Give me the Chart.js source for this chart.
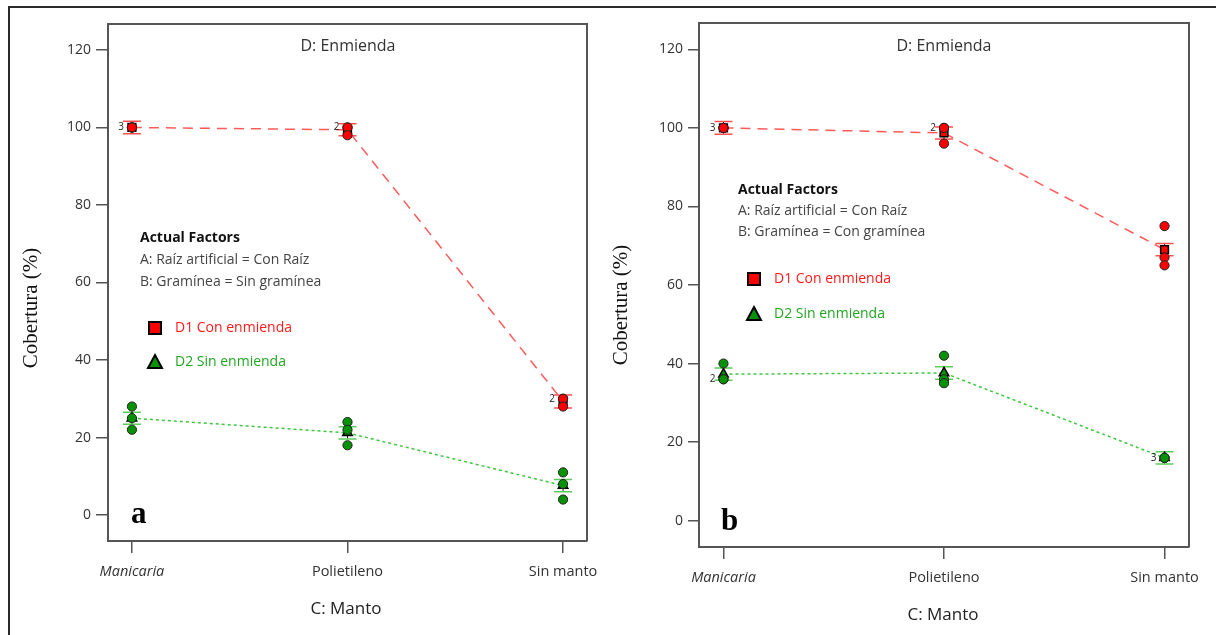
<!DOCTYPE html>
<html>
<head>
<meta charset="utf-8">
<title>Cobertura por manto y enmienda</title>
<script src="https://cdn.jsdelivr.net/npm/chart.js@4.4.0/dist/chart.umd.min.js"></script>
<style>
    html, body { margin: 0; padding: 0; background: #fff; }
    #frame { position: absolute; left: 8px; top: 6px; width: 1240px; height: 700px;
             border-left: 2px solid #2a2a2a; border-top: 2px solid #2a2a2a; }
    canvas { position: absolute; top: 0; }
    #chart-a { left: 0; }
    #chart-b { left: 600px; }
</style>
</head>
<body>
<div id="frame"></div>
<canvas id="chart-a" width="600" height="635"></canvas>
<canvas id="chart-b" width="616" height="635"></canvas>
<script>
var categories = ['Manicaria', 'Polietileno', 'Sin manto'];
var yTicks = [0, 20, 40, 60, 80, 100, 120];

// a: Gramínea = Sin gramínea
var aD1Obs = [[100, 100, 100], [100, 100, 98], [30, 30, 28]];
var aD1Mean = [100, 99.4, 29.3];
var aD1Ci = [1.6, 1.55, 1.7];
var aD1Rep = [3, 2, 2];
var aD1RepAt = [100, 100, 30];

var aD2Obs = [[28, 25, 22], [24, 22, 18], [11, 8, 4]];
var aD2Mean = [25, 21.2, 7.6];
var aD2Ci = [1.55, 1.6, 1.6];
var aD2Rep = [0, 0, 0];
var aD2RepAt = [null, null, null];

// b: Gramínea = Con gramínea
var bD1Obs = [[100, 100, 100], [100, 100, 96], [75, 67, 65]];
var bD1Mean = [100, 98.7, 69];
var bD1Ci = [1.6, 1.5, 1.55];
var bD1Rep = [3, 2, 0];
var bD1RepAt = [100, 100, null];

var bD2Obs = [[40, 36, 36], [42, 36, 35], [16, 16, 16]];
var bD2Mean = [37.3, 37.6, 16];
var bD2Ci = [1.55, 1.6, 1.55];
var bD2Rep = [2, 0, 3];
var bD2RepAt = [36, null, 16];

var RED = '#ff0000', GREEN = '#079107';
var FONT = 'Open Sans';

Chart.defaults.font.family = FONT;

function points(obs) {
    var out = [];
    obs.forEach(function(vals, i) {
        vals.forEach(function(v) { out.push({x: i, y: v}); });
    });
    return out;
}

function meanLine(mean) {
    return mean.map(function(v, i) { return {x: i, y: v}; });
}

function decor(p) {
    return {
        id: 'decor',
        beforeDatasetsDraw: function(chart) {
            var ctx = chart.ctx, xs = chart.scales.x, ys = chart.scales.y;
            p.series.forEach(function(s) {
                s.mean.forEach(function(m, i) {
                    var px = xs.getPixelForValue(i);
                    var top = ys.getPixelForValue(m + s.ci[i]);
                    var bot = ys.getPixelForValue(m - s.ci[i]);
                    ctx.save();
                    ctx.strokeStyle = '#222';
                    ctx.lineWidth = 1;
                    ctx.beginPath();
                    ctx.moveTo(px, top); ctx.lineTo(px, bot);
                    ctx.stroke();
                    ctx.strokeStyle = s.cap;
                    ctx.lineWidth = 1.5;
                    ctx.beginPath();
                    ctx.moveTo(px - 9, top); ctx.lineTo(px + 9, top);
                    ctx.moveTo(px - 9, bot); ctx.lineTo(px + 9, bot);
                    ctx.stroke();
                    ctx.restore();
                });
            });
        },
        afterDatasetsDraw: function(chart) {
            var ctx = chart.ctx, xs = chart.scales.x, ys = chart.scales.y;
            ctx.save();
            ctx.fillStyle = '#222';
            ctx.font = '10px ' + FONT;
            ctx.textAlign = 'right';
            ctx.textBaseline = 'middle';
            p.series.forEach(function(s) {
                s.rep.forEach(function(n, i) {
                    if (!n) return;
                    ctx.fillText(String(n), xs.getPixelForValue(i) - 8, ys.getPixelForValue(s.repAt[i]));
                });
            });
            ctx.restore();
        },
        afterDraw: function(chart) {
            var ctx = chart.ctx, a = chart.chartArea, o = p.offset;
            ctx.save();
            // rest of the plot frame
            ctx.strokeStyle = '#555';
            ctx.lineWidth = 2;
            ctx.beginPath();
            ctx.moveTo(a.left, a.top); ctx.lineTo(a.right, a.top); ctx.lineTo(a.right, a.bottom);
            ctx.stroke();

            ctx.textBaseline = 'middle';
            ctx.fillStyle = '#333';
            ctx.font = '16px ' + FONT;
            ctx.textAlign = 'center';
            ctx.fillText('D: Enmienda', p.title[0] - o, p.title[1]);
            ctx.font = '17px ' + FONT;
            ctx.fillStyle = '#222';
            ctx.fillText('C: Manto', p.xTitle[0] - o, p.xTitle[1]);

            ctx.save();
            ctx.translate(p.yTitle[0] - o, p.yTitle[1]);
            ctx.rotate(-Math.PI / 2);
            ctx.font = '21px "Liberation Serif"';
            ctx.fillStyle = '#111';
            ctx.fillText('Cobertura (%)', 0, 0);
            ctx.restore();

            ctx.textAlign = 'left';
            ctx.font = 'bold 14px ' + FONT;
            ctx.fillStyle = '#111';
            ctx.fillText('Actual Factors', p.factors[0] - o, p.factors[1]);
            ctx.font = '14px ' + FONT;
            ctx.fillStyle = '#444';
            ctx.fillText('A: Raíz artificial = Con Raíz', p.factors[0] - o, p.factors[1] + p.gap);
            ctx.fillText('B: Gramínea = ' + p.grass, p.factors[0] - o, p.factors[1] + 2 * p.gap);

            // legend keys
            var lx = p.legend[0] - o, ly1 = p.legend[1], ly2 = p.legend[2];
            ctx.fillStyle = RED;
            ctx.strokeStyle = '#000';
            ctx.lineWidth = 2;
            ctx.fillRect(lx - 6, ly1 - 6, 12, 12);
            ctx.strokeRect(lx - 6, ly1 - 6, 12, 12);
            ctx.fillStyle = GREEN;
            ctx.beginPath();
            ctx.moveTo(lx, ly2 - 7); ctx.lineTo(lx + 7, ly2 + 6); ctx.lineTo(lx - 7, ly2 + 6);
            ctx.closePath();
            ctx.fill(); ctx.stroke();
            ctx.font = '14px ' + FONT;
            ctx.fillStyle = '#ff1a1a';
            ctx.fillText('D1 Con enmienda', lx + 20, ly1);
            ctx.fillStyle = '#22a622';
            ctx.fillText('D2 Sin enmienda', lx + 20, ly2);

            ctx.textBaseline = 'alphabetic';
            ctx.font = 'bold 31px "Liberation Serif"';
            ctx.fillStyle = '#000';
            ctx.fillText(p.letter, p.letterPos[0] - o, p.letterPos[1]);
            ctx.restore();
        }
    };
}

function makeChart(id, p) {
    var ds = [];
    p.series.forEach(function(s) {
        ds.push({
            data: points(s.obs),
            showLine: false,
            pointStyle: 'circle',
            pointRadius: 4.6,
            backgroundColor: s.fill,
            borderColor: '#222',
            borderWidth: 1,
            order: 0
        });
        ds.push({
            data: meanLine(s.mean),
            showLine: true,
            borderColor: s.line,
            borderDash: s.dash,
            borderWidth: 1.5,
            pointStyle: s.marker,
            pointRadius: 5.5,
            pointBackgroundColor: s.fill,
            pointBorderColor: '#000',
            pointBorderWidth: 1.5,
            order: 1
        });
    });

    return new Chart(document.getElementById(id), {
        type: 'scatter',
        data: { datasets: ds },
        options: {
            responsive: false,
            animation: false,
            layout: { padding: { left: 0, top: p.top, right: p.right, bottom: 0 } },
            plugins: { legend: { display: false }, tooltip: { enabled: false } },
            scales: {
                x: {
                    type: 'linear', min: -0.111, max: 2.111,
                    afterBuildTicks: function(s) {
                        s.ticks = categories.map(function(c, i) { return {value: i}; });
                    },
                    afterFit: function(s) {
                        s.height = p.xH;
                        // tick labels may overhang the frame
                        s.paddingLeft = 0;
                        s.paddingRight = 0;
                    },
                    ticks: {
                        callback: function(v) { return categories[v]; },
                        color: '#333',
                        padding: 10,
                        maxRotation: 0,
                        autoSkip: false,
                        font: function(c) {
                            return { family: FONT, size: 14.5, style: c.index === 0 ? 'italic' : 'normal' };
                        }
                    },
                    grid: { drawOnChartArea: false, tickLength: 12, color: '#555', lineWidth: 1.5 },
                    border: { display: true, color: '#555', width: 2 }
                },
                y: {
                    type: 'linear', min: -6.7, max: 126.7,
                    afterBuildTicks: function(s) {
                        s.ticks = yTicks.map(function(v) { return {value: v}; });
                    },
                    afterFit: function(s) {
                        s.width = p.yW;
                        s.paddingTop = 0;
                        s.paddingBottom = 0;
                    },
                    ticks: { color: '#333', padding: 5, font: { family: FONT, size: 14 } },
                    grid: { drawOnChartArea: false, tickLength: p.yTick, color: '#555', lineWidth: 1.5 },
                    border: { display: true, color: '#555', width: 2 }
                }
            }
        },
        plugins: [decor(p)]
    });
}

var d1Style = { fill: RED, cap: '#ff5050', line: '#ff5a5a', dash: [10, 7], marker: 'rect' };
var d2Style = { fill: GREEN, cap: '#5ccc5c', line: '#3cc83c', dash: [3, 3], marker: 'triangle' };

function series(style, obs, mean, ci, rep, repAt) {
    return Object.assign({ obs: obs, mean: mean, ci: ci, rep: rep, repAt: repAt }, style);
}

makeChart('chart-a', {
    offset: 0, top: 24, right: 13, xH: 94, yW: 108, yTick: 12,
    title: [348, 46], xTitle: [346, 609], yTitle: [31, 308],
    factors: [140, 238], gap: 22, grass: 'Sin gramínea',
    legend: [155, 328, 362],
    letter: 'a', letterPos: [131, 523],
    series: [
        series(d1Style, aD1Obs, aD1Mean, aD1Ci, aD1Rep, aD1RepAt),
        series(d2Style, aD2Obs, aD2Mean, aD2Ci, aD2Rep, aD2RepAt)
    ]
});

makeChart('chart-b', {
    offset: 600, top: 23, right: 27, xH: 88, yW: 99, yTick: 11,
    title: [944, 46], xTitle: [943, 615], yTitle: [621, 305],
    factors: [738, 190], gap: 21, grass: 'Con gramínea',
    legend: [754, 279, 314],
    letter: 'b', letterPos: [721, 530],
    series: [
        series(d1Style, bD1Obs, bD1Mean, bD1Ci, bD1Rep, bD1RepAt),
        series(d2Style, bD2Obs, bD2Mean, bD2Ci, bD2Rep, bD2RepAt)
    ]
});
</script>
</body>
</html>
